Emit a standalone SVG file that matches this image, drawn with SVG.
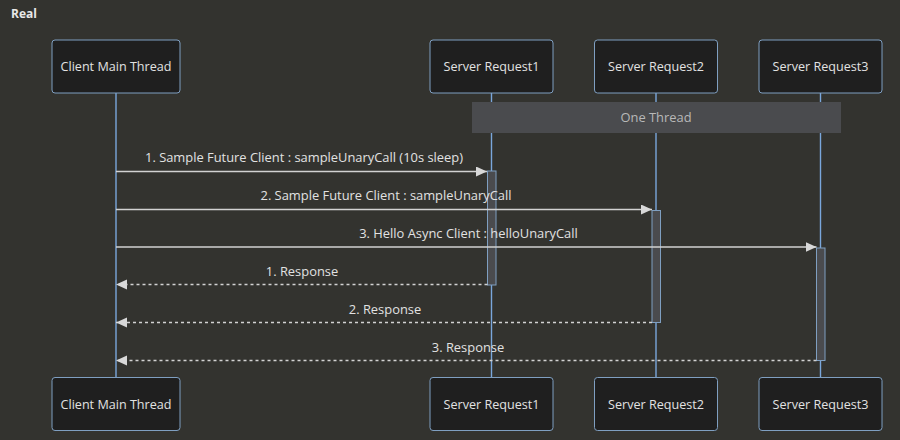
<svg xmlns="http://www.w3.org/2000/svg" width="900" height="440" viewBox="0 0 900 440">
<style>
.bg{fill:#33332f}
.actor rect{fill:#1f1f1f;stroke:#7f9fc1;stroke-width:1}
.actor text{fill:#e2e2e2;font-family:"Open Sans","DejaVu Sans",sans-serif;font-size:12.6px;text-anchor:middle}
.life{stroke:#7aa7dc;stroke-width:1.4}
.act{fill:#4a4b4e;stroke:#7f9fc1;stroke-width:1}
.msg{stroke:#d2d2d2;stroke-width:1.3;fill:none}
.dash{stroke-dasharray:3,3}
.lbl{fill:#e2e2e2;font-family:"Open Sans","DejaVu Sans",sans-serif;font-size:12.9px;text-anchor:middle}
.note rect{fill:#4a4b4e}
.note text{fill:#b8b8b8;font-family:"Open Sans","DejaVu Sans",sans-serif;font-size:12.9px;text-anchor:middle}
</style>
<defs>
<marker id="ah" markerWidth="12" markerHeight="12" refX="11" refY="5" orient="auto" markerUnits="userSpaceOnUse">
<path d="M0,0 L11,5 L0,10 z" fill="#d8d8d8"/>
</marker>
</defs>
<rect class="bg" x="0" y="0" width="900" height="440"/>
<text x="11" y="18" font-family="'Open Sans','DejaVu Sans',sans-serif" font-size="12" font-weight="bold" fill="#e8e8e8">Real</text>
<g id="lifelines">
<line class="life" x1="116" y1="93" x2="116" y2="377"/>
<line class="life" x1="491.5" y1="93" x2="491.5" y2="377"/>
<line class="life" x1="656" y1="93" x2="656" y2="377"/>
<line class="life" x1="820.5" y1="93" x2="820.5" y2="377"/>
</g>
<g id="note-one-thread" class="note">
<rect x="472" y="102" width="369" height="31"/>
<text x="656" y="122">One Thread</text>
</g>
<g id="activations">
<rect class="act" x="487.5" y="171" width="8.5" height="114"/>
<rect class="act" x="652" y="210.5" width="8.5" height="112"/>
<rect class="act" x="816.5" y="248" width="8.5" height="112.5"/>
</g>
<g id="connectors">
<line class="msg" x1="116" y1="171.5" x2="487" y2="171.5" marker-end="url(#ah)"/>
<text class="lbl" x="304" y="162">1. Sample Future Client : sampleUnaryCall (10s sleep)</text>
<line class="msg" x1="116" y1="209.5" x2="652" y2="209.5" marker-end="url(#ah)"/>
<text class="lbl" x="386" y="200">2. Sample Future Client : sampleUnaryCall</text>
<line class="msg" x1="116" y1="247" x2="816.5" y2="247" marker-end="url(#ah)"/>
<text class="lbl" x="468.5" y="238">3. Hello Async Client : helloUnaryCall</text>
<line class="msg dash" x1="487.5" y1="284.5" x2="116" y2="284.5" marker-end="url(#ah)"/>
<text class="lbl" x="302" y="275.5">1. Response</text>
<line class="msg dash" x1="652" y1="322.5" x2="116" y2="322.5" marker-end="url(#ah)"/>
<text class="lbl" x="385" y="313.5">2. Response</text>
<line class="msg dash" x1="816.5" y1="360.5" x2="116" y2="360.5" marker-end="url(#ah)"/>
<text class="lbl" x="468" y="351.5">3. Response</text>
</g>
<g id="client-top" class="actor"><rect x="52" y="40" width="128" height="53" rx="3"/><text x="116" y="71">Client Main Thread</text></g>
<g id="server1-top" class="actor"><rect x="430" y="40" width="123" height="53" rx="3"/><text x="491.5" y="71">Server Request1</text></g>
<g id="server2-top" class="actor"><rect x="594.5" y="40" width="123" height="53" rx="3"/><text x="656" y="71">Server Request2</text></g>
<g id="server3-top" class="actor"><rect x="759" y="40" width="123" height="53" rx="3"/><text x="820.5" y="71">Server Request3</text></g>
<g id="client-bottom" class="actor"><rect x="52" y="377.5" width="128" height="53" rx="3"/><text x="116" y="408.5">Client Main Thread</text></g>
<g id="server1-bottom" class="actor"><rect x="430" y="377.5" width="123" height="53" rx="3"/><text x="491.5" y="408.5">Server Request1</text></g>
<g id="server2-bottom" class="actor"><rect x="594.5" y="377.5" width="123" height="53" rx="3"/><text x="656" y="408.5">Server Request2</text></g>
<g id="server3-bottom" class="actor"><rect x="759" y="377.5" width="123" height="53" rx="3"/><text x="820.5" y="408.5">Server Request3</text></g>
</svg>
